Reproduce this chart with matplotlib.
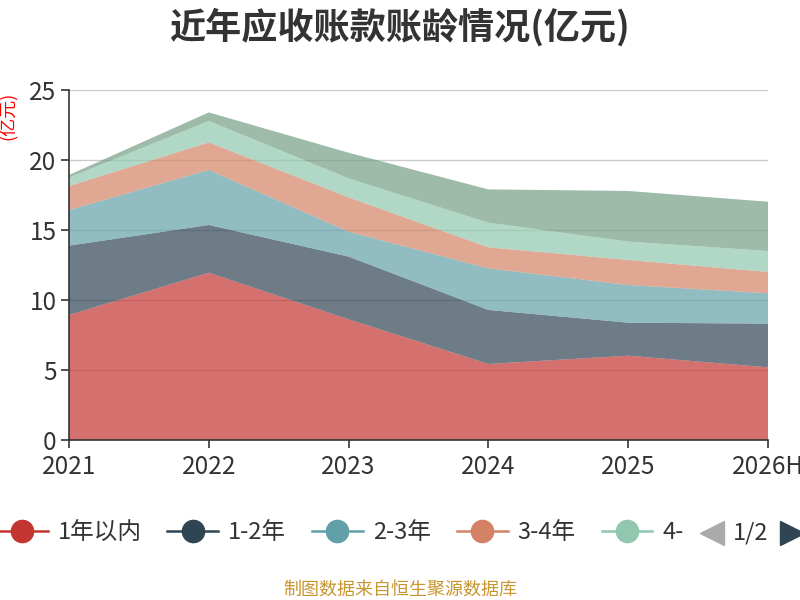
import numpy as np
import matplotlib.pyplot as plt
from matplotlib.lines import Line2D

plt.rcParams['font.family'] = ['Noto Sans CJK SC', 'DejaVu Sans']

years = ['2021', '2022', '2023', '2024', '2025', '2026H']
series_names = ['1年以内', '1-2年', '2-3年', '3-4年', '4-5年', '5年以上']
within_1y = [8.93, 11.95, 8.62, 5.43, 6.02, 5.19]
y1_2 = [4.95, 3.41, 4.48, 3.86, 2.36, 3.12]
y2_3 = [2.55, 3.93, 1.78, 2.97, 2.69, 2.17]
y3_4 = [1.71, 1.97, 2.45, 1.50, 1.79, 1.52]
y4_5 = [0.60, 1.53, 1.36, 1.76, 1.31, 1.50]
over_5y = [0.19, 0.61, 1.83, 2.38, 3.62, 3.52]
colors = ['#c23531', '#2f4554', '#61a0a8', '#d48265', '#91c7ae', '#749f83']

fig = plt.figure(figsize=(8, 6), dpi=100)
ax = fig.add_axes([0.08625, 0.2667, 0.87375, 0.5833])

x = np.arange(len(years))
ax.stackplot(x, within_1y, y1_2, y2_3, y3_4, y4_5, over_5y,
             colors=colors, alpha=0.7, linewidth=0, zorder=2)

ax.set_xlim(0, len(years) - 1)
ax.set_ylim(0, 25)
ax.set_yticks([0, 5, 10, 15, 20, 25])
ax.set_xticks(x)
ax.set_xticklabels(years)
ax.yaxis.grid(True, color='#cccccc', linewidth=1, zorder=1)
ax.set_axisbelow(True)
for s in ['top', 'right']:
    ax.spines[s].set_visible(False)
for s in ['left', 'bottom']:
    ax.spines[s].set_color('#333333')
    ax.spines[s].set_linewidth(1.2)
ax.tick_params(axis='both', colors='#333333', labelsize=17.5, length=6, width=1.2)
ax.tick_params(axis='x', pad=4)
ax.tick_params(axis='y', pad=3)

fig.text(0.5, 0.955, '近年应收账款账龄情况(亿元)', ha='center', va='center',
         fontsize=26, fontweight='bold', color='#333333')
fig.text(0.01, 0.807, '(亿元)', rotation=90, ha='center', va='center',
         fontsize=13, color='red')
fig.text(0.5, 0.018, '制图数据来自恒生聚源数据库', ha='center', va='center',
         fontsize=13, color='#c8962e')

# legend (page 1 of 2)
handles = [Line2D([0], [0], color=c, marker='o', markersize=16, linewidth=1.8)
           for c in colors[:5]]
labels = series_names[:4] + [series_names[4][:2]]
fig.legend(handles, labels, loc='center left', bbox_to_anchor=(-0.004, 0.112),
           ncol=5, frameon=False, fontsize=17, handlelength=2.15,
           handletextpad=0.42, columnspacing=1.1, borderpad=0, borderaxespad=0,
           labelcolor='#333333')
fig.add_artist(Line2D([0.89], [0.112], marker='<', markersize=17, color='#aaaaaa',
                      transform=fig.transFigure))
fig.text(0.938, 0.112, '1/2', ha='center', va='center', fontsize=17, color='#333333')
fig.add_artist(Line2D([0.99], [0.112], marker='>', markersize=17, color='#2f4554',
                      transform=fig.transFigure))

fig.savefig('out.png', dpi=100)
